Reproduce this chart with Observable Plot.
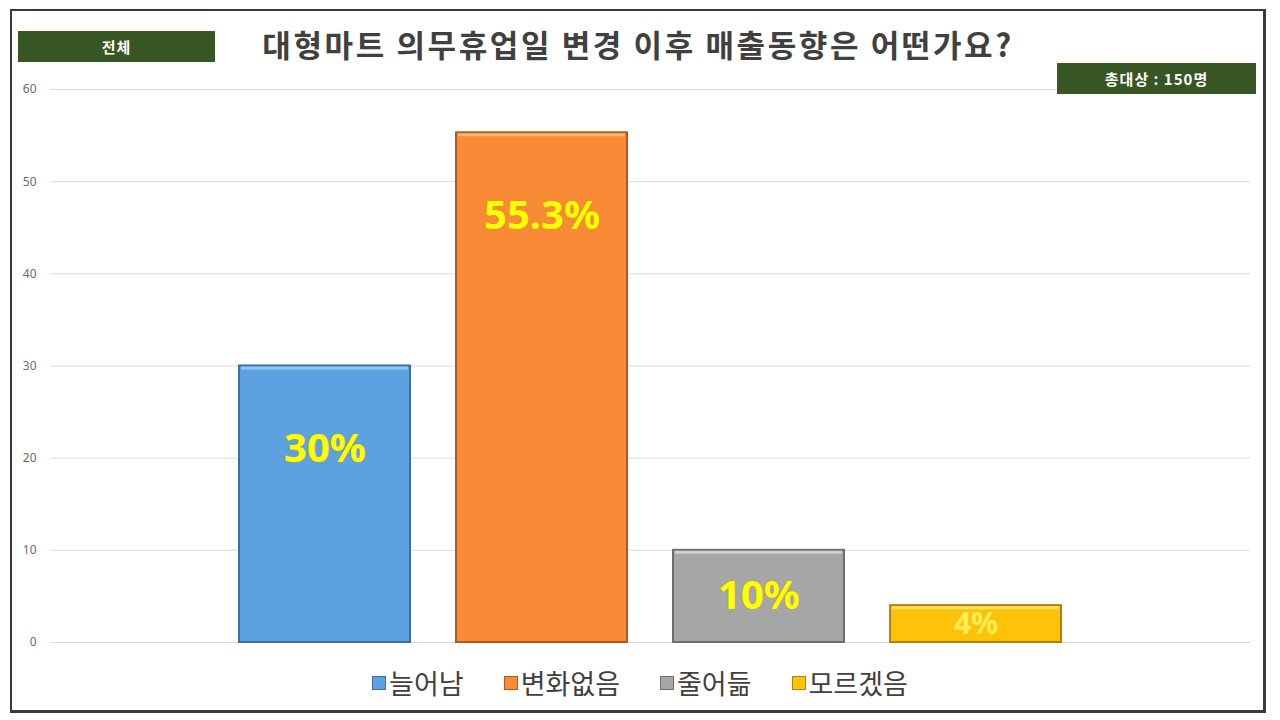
<!DOCTYPE html>
<html><head><meta charset="utf-8">
<script src="https://cdn.jsdelivr.net/npm/d3@7"></script>
<script src="https://cdn.jsdelivr.net/npm/@observablehq/plot@0.6"></script>
<style>
body{margin:0;background:#fff;}
#wrap{position:relative;width:1280px;height:720px;overflow:hidden;background:#fff;font-family:"Noto Sans CJK KR","Noto Sans",sans-serif;}
#chart{position:absolute;left:0;top:0;}
#frame{position:absolute;left:10px;top:9px;width:1256px;height:704px;border:2.5px solid #3a3a3a;border-right-width:3px;border-bottom-width:3px;box-sizing:border-box;pointer-events:none;}
#title{position:absolute;left:0;width:1276px;top:20px;text-align:center;font-size:31px;font-weight:700;color:#404040;line-height:48px;letter-spacing:2.6px;}
.badge{position:absolute;background:#375623;color:#fff;font-weight:700;font-size:15px;letter-spacing:1px;text-align:center;line-height:31px;height:31px;}
#legend{position:absolute;left:0;width:1280px;top:662px;display:flex;justify-content:center;gap:40px;font-size:27px;color:#404040;line-height:42px;}
#legend .item{display:flex;align-items:center;gap:3px;}
#legend .sw{width:14px;height:14px;box-sizing:border-box;border:1.5px solid;}
</style></head>
<body>
<div id="wrap">
  <div id="chart"></div>
  <div id="title"></div>
  <div class="badge" id="b1" style="left:18px;top:31px;width:197px;"></div>
  <div class="badge" id="b2" style="left:1057px;top:63px;width:199px;"></div>
  <div id="legend"></div>
  <div id="frame"></div>
</div>
<script>
const titleText = "대형마트 의무휴업일 변경 이후 매출동향은 어떤가요?";
const badgeLeft = "전체";
const badgeRight = "총대상 : 150명";
const categories = ["늘어남", "변화없음", "줄어듦", "모르겠음"];
const values = [30, 55.3, 10, 4];
const valueLabels = ["30%", "55.3%", "10%", "4%"];
const colors = ["#5ea1e0", "#f98a36", "#a6a6a6", "#ffc20a"];
const edgeColors = ["#3d6f9e", "#b15a1c", "#6e6e6e", "#b08400"];
const highlightColors = ["#8cc8f5", "#ffb36b", "#d0d0d0", "#ffe060"];
const yTicks = [0, 10, 20, 30, 40, 50, 60];

const data = categories.map((c, i) => ({
  category: c, value: values[i], label: valueLabels[i],
  color: colors[i], edge: edgeColors[i], hi: highlightColors[i]
}));

document.getElementById("title").textContent = titleText;
document.getElementById("b1").textContent = badgeLeft;
document.getElementById("b2").textContent = badgeRight;

const labelY = d => Math.max(d.value / 2, d.value - 9);

const chart = Plot.plot({
  width: 1280,
  height: 720,
  marginTop: 89,
  marginBottom: 78,
  marginLeft: 50,
  marginRight: 30,
  style: {fontFamily: "'Noto Sans', 'Noto Sans CJK KR', sans-serif", background: "transparent"},
  x: {domain: categories, paddingInner: 0.214, paddingOuter: 0.868, axis: null},
  y: {domain: [0, 60], ticks: yTicks, label: null},
  marks: [
    Plot.ruleY(yTicks, {stroke: "#dcdcdc", strokeWidth: 1}),
    Plot.axisY({ticks: yTicks, tickSize: 0, tickPadding: 14, fontSize: 12, fill: "#6b6b6b", label: null}),
    Plot.barY(data, {x: "category", y: "value", fill: d => d.color, stroke: d => d.edge, strokeWidth: 2}),
    Plot.tickY(data, {x: "category", y: "value", stroke: d => d.hi, strokeWidth: 3, dy: 2, inset: 2}),
    Plot.text(data.filter(d => d.value >= 5), {x: "category", y: labelY, text: "label", fill: "#ffff00",
      fontSize: 40, fontWeight: 700, stroke: "#c8a000", strokeWidth: 0.6, paintOrder: "stroke"}),
    Plot.text(data.filter(d => d.value < 5), {x: "category", y: labelY, text: "label", fill: "#ffee55",
      fontSize: 30, fontWeight: 700})
  ]
});
chart.style.color = "#6b6b6b";
document.getElementById("chart").appendChild(chart);

const legend = document.getElementById("legend");
data.forEach(d => {
  const item = document.createElement("div");
  item.className = "item";
  const sw = document.createElement("div");
  sw.className = "sw";
  sw.style.background = d.color;
  sw.style.borderColor = d.edge;
  const t = document.createElement("span");
  t.textContent = d.category;
  item.appendChild(sw); item.appendChild(t);
  legend.appendChild(item);
});
</script>
</body></html>
